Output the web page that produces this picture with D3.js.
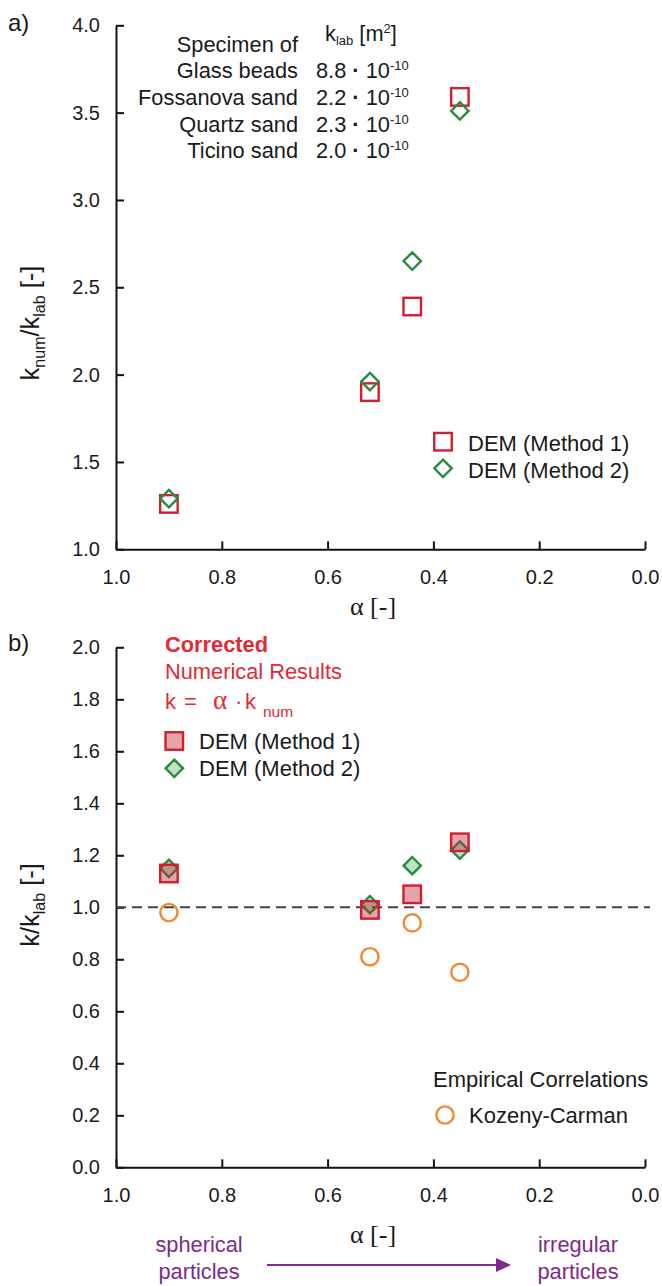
<!DOCTYPE html>
<html>
<head>
<meta charset="utf-8">
<script src="https://cdn.jsdelivr.net/npm/d3@7"></script>
<style>
  body { margin: 0; background: #fff; }
  svg { display: block; }
  text { font-family: "Liberation Sans", Arial, Helvetica, sans-serif; fill: #1a1a1a; }
  .serif { font-family: "Liberation Serif", "Times New Roman", serif; }
</style>
</head>
<body>
<svg id="chart" width="662" height="1286"></svg>
<script>
// ---- data ----
const alpha = [0.90, 0.52, 0.44, 0.35];
const specimens = ["Glass beads", "Fossanova sand", "Quartz sand", "Ticino sand"];
const kLabMantissa = ["8.8", "2.2", "2.3", "2.0"];
const ratioMethod1 = [1.26, 1.90, 2.39, 3.59];      // k_num / k_lab, DEM method 1
const ratioMethod2 = [1.29, 1.96, 2.65, 3.51];      // k_num / k_lab, DEM method 2
const correctedMethod1 = [1.13, 0.99, 1.05, 1.25];  // k / k_lab, DEM method 1
const correctedMethod2 = [1.15, 1.01, 1.16, 1.22];  // k / k_lab, DEM method 2
const kozenyCarman = [0.98, 0.81, 0.94, 0.75];      // k / k_lab, Kozeny-Carman
const xTicks = [1.0, 0.8, 0.6, 0.4, 0.2, 0.0];
const yTicksA = [1.0, 1.5, 2.0, 2.5, 3.0, 3.5, 4.0];
const yTicksB = [0.0, 0.2, 0.4, 0.6, 0.8, 1.0, 1.2, 1.4, 1.6, 1.8, 2.0];

// ---- styles ----
const RED = "#d01f30", GREEN = "#2a8c3c", ORANGE = "#ef8a33", PURPLE = "#7d2a8c";
const SQ = 17.5, DI = 8.7, CR = 8.6, SW = 2.4;
const TXT = "21.8px";

const svg = d3.select("#chart");

const x = d3.scaleLinear().domain([1, 0]).range([116, 645]);
const yA = d3.scaleLinear().domain([1, 4]).range([549.3, 25.3]);
const yB = d3.scaleLinear().domain([0, 2]).range([1167.3, 647.3]);

const fmt = d3.format(".1f");

function styleAxis(g) {
  g.selectAll("path.domain").attr("stroke", "#111").attr("stroke-width", 2);
  g.selectAll(".tick line").attr("stroke", "#111").attr("stroke-width", 2);
  g.selectAll(".tick text")
    .attr("fill", "#1a1a1a")
    .style("font-family", '"Liberation Sans", Arial, sans-serif')
    .style("font-size", "20px");
}

function drawAxes(y, yTicks, yBottom) {
  svg.append("g")
    .attr("transform", `translate(0,${yBottom})`)
    .call(d3.axisBottom(x).tickValues(xTicks).tickFormat(fmt)
      .tickSizeInner(-8).tickSizeOuter(0).tickPadding(21))
    .call(styleAxis);
  svg.append("g")
    .attr("transform", `translate(${x(1)},0)`)
    .call(d3.axisLeft(y).tickValues(yTicks).tickFormat(fmt)
      .tickSizeInner(-8).tickSizeOuter(0).tickPadding(16))
    .call(styleAxis);
}

const diamondPath = `M0,${-DI}L${DI},0L0,${DI}L${-DI},0Z`;

function squares(g, xs, ys, filled) {
  g.selectAll(null).data(xs).enter().append("rect")
    .attr("x", (d) => d - SQ / 2).attr("y", (d, i) => ys[i] - SQ / 2)
    .attr("width", SQ).attr("height", SQ)
    .attr("fill", filled ? "rgba(190,30,45,0.4)" : "none")
    .attr("stroke", RED).attr("stroke-width", SW);
}
function diamonds(g, xs, ys, filled) {
  g.selectAll(null).data(xs).enter().append("path")
    .attr("d", diamondPath)
    .attr("transform", (d, i) => `translate(${d},${ys[i]})`)
    .attr("fill", filled ? "rgba(46,154,72,0.3)" : "none")
    .attr("stroke", GREEN).attr("stroke-width", SW);
}
function circles(g, xs, ys) {
  g.selectAll(null).data(xs).enter().append("circle")
    .attr("cx", (d) => d).attr("cy", (d, i) => ys[i]).attr("r", CR)
    .attr("fill", "none").attr("stroke", ORANGE).attr("stroke-width", SW);
}

function alphaTitle(cx, baseline) {
  svg.append("text").attr("class", "serif")
    .attr("x", cx).attr("y", baseline).attr("text-anchor", "middle")
    .style("font-size", "26px").text("α [-]");
}

// ================= panel a =================
drawAxes(yA, yTicksA, yA(1));

svg.append("text").attr("x", 8).attr("y", 31).style("font-size", "24px").text("a)");

// y title: k_num / k_lab [-]
{
  const t = svg.append("text")
    .attr("transform", `translate(39,323) rotate(-90)`)
    .attr("text-anchor", "middle").style("font-size", "25.5px");
  t.append("tspan").text("k");
  t.append("tspan").attr("dy", 6).style("font-size", "16px").text("num");
  t.append("tspan").attr("dy", -6).text("/k");
  t.append("tspan").attr("dy", 6).style("font-size", "16px").text("lab");
  t.append("tspan").attr("dy", -6).text(" [-]");
}
alphaTitle(373, 615);

// specimen table
{
  const g = svg.append("g").style("font-size", TXT);
  g.append("text").attr("x", 298).attr("y", 51.7).attr("text-anchor", "end").text("Specimen of");
  const hdr = g.append("text").attr("x", 325).attr("y", 41);
  hdr.append("tspan").text("k");
  hdr.append("tspan").attr("dy", 4).style("font-size", "13px").text("lab");
  hdr.append("tspan").attr("dy", -4).text(" [m");
  hdr.append("tspan").attr("dy", -8).style("font-size", "13px").text("2");
  hdr.append("tspan").attr("dy", 8).text("]");

  specimens.forEach((name, i) => {
    const yb = 78.3 + i * 26.7;
    g.append("text").attr("x", 298).attr("y", yb).attr("text-anchor", "end").text(name);
    const v = g.append("text").attr("x", 316).attr("y", yb);
    v.append("tspan").text(kLabMantissa[i] + " ");
    v.append("tspan").style("font-weight", "bold").text("·");
    v.append("tspan").text(" 10");
    v.append("tspan").attr("dy", -8).style("font-size", "13px").text("-10");
  });
}

{
  const g = svg.append("g");
  const xs = alpha.map(x);
  squares(g, xs, ratioMethod1.map(yA), false);
  diamonds(g, xs, ratioMethod2.map(yA), false);
}

// legend a
{
  const g = svg.append("g").style("font-size", "22px");
  g.append("rect").attr("x", 443 - SQ / 2).attr("y", 441.7 - SQ / 2).attr("width", SQ).attr("height", SQ)
    .attr("fill", "none").attr("stroke", RED).attr("stroke-width", SW);
  g.append("text").attr("x", 468).attr("y", 450.5).text("DEM (Method 1)");
  g.append("path").attr("d", diamondPath).attr("transform", "translate(443,468.3)")
    .attr("fill", "none").attr("stroke", GREEN).attr("stroke-width", SW);
  g.append("text").attr("x", 468).attr("y", 477.5).text("DEM (Method 2)");
}

// ================= panel b =================
drawAxes(yB, yTicksB, yB(0));

svg.append("text").attr("x", 8).attr("y", 651).style("font-size", "24px").text("b)");

{
  const t = svg.append("text")
    .attr("transform", `translate(39,905) rotate(-90)`)
    .attr("text-anchor", "middle").style("font-size", "25.5px");
  t.append("tspan").text("k/k");
  t.append("tspan").attr("dy", 6).style("font-size", "16px").text("lab");
  t.append("tspan").attr("dy", -6).text(" [-]");
}
alphaTitle(373, 1243);

// reference line k = k_lab
svg.append("line")
  .attr("x1", x(1)).attr("x2", 650).attr("y1", yB(1)).attr("y2", yB(1))
  .attr("stroke", "#444").attr("stroke-width", 2).attr("stroke-dasharray", "10,6");

{
  const g = svg.append("g");
  const xs = alpha.map(x);
  circles(g, xs, kozenyCarman.map(yB));
  diamonds(g, xs, correctedMethod2.map(yB), true);
  squares(g, xs, correctedMethod1.map(yB), true);
}

// legend b: corrected numerical results
{
  const g = svg.append("g").style("font-size", TXT);
  const RT = "#e02a35";
  g.append("text").attr("x", 165).attr("y", 652).style("font-weight", "bold").style("fill", RT).text("Corrected");
  g.append("text").attr("x", 165).attr("y", 679).style("fill", RT).text("Numerical Results");
  const f = g.append("text").attr("y", 709).style("fill", RT).style("font-size", "22px");
  f.append("tspan").attr("x", 165).text("k");
  f.append("tspan").attr("x", 184).text("=");
  f.append("tspan").attr("x", 213).attr("class", "serif").style("font-size", "27px").text("α");
  f.append("tspan").attr("x", 235).text("·");
  f.append("tspan").attr("x", 245).text("k");
  f.append("tspan").attr("x", 263).attr("dy", 8).style("font-size", "15.5px").text("num");

  const lg = svg.append("g").style("font-size", "22px");
  lg.append("rect").attr("x", 174.3 - SQ / 2).attr("y", 741 - SQ / 2).attr("width", SQ).attr("height", SQ)
    .attr("fill", "rgba(190,30,45,0.4)").attr("stroke", RED).attr("stroke-width", SW);
  lg.append("text").attr("x", 199).attr("y", 749).text("DEM (Method 1)");
  lg.append("path").attr("d", diamondPath).attr("transform", "translate(174.3,768.3)")
    .attr("fill", "rgba(46,154,72,0.3)").attr("stroke", GREEN).attr("stroke-width", SW);
  lg.append("text").attr("x", 199).attr("y", 776).text("DEM (Method 2)");
}

// legend b: empirical correlations
{
  const g = svg.append("g").style("font-size", "22px");
  g.append("text").attr("x", 433).attr("y", 1087).text("Empirical Correlations");
  g.append("circle").attr("cx", 445).attr("cy", 1115).attr("r", CR)
    .attr("fill", "none").attr("stroke", ORANGE).attr("stroke-width", SW);
  g.append("text").attr("x", 469).attr("y", 1123).text("Kozeny-Carman");
}

// shape direction annotation
{
  const g = svg.append("g").style("font-size", TXT);
  [["spherical", 199, 1252], ["particles", 199, 1279], ["irregular", 578, 1252], ["particles", 578, 1279]]
    .forEach(([s, cx, yb]) => g.append("text").attr("x", cx).attr("y", yb)
      .attr("text-anchor", "middle").style("fill", PURPLE).text(s));
  g.append("line").attr("x1", 267).attr("x2", 497).attr("y1", 1265).attr("y2", 1265)
    .attr("stroke", PURPLE).attr("stroke-width", 2);
  g.append("path").attr("d", "M496,1258L511,1265L496,1272Z").attr("fill", PURPLE);
}
</script>
</body>
</html>
